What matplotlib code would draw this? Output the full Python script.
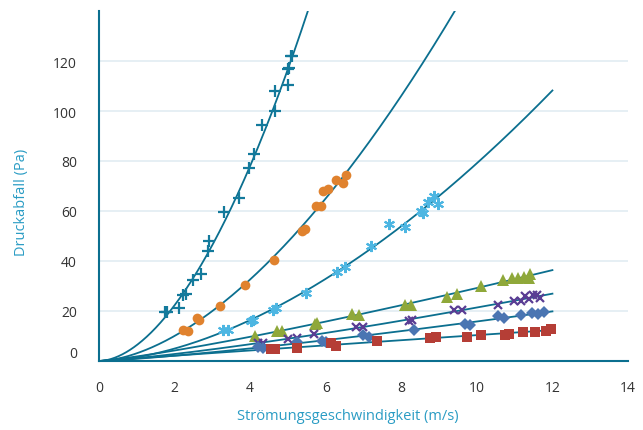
import numpy as np
import matplotlib
matplotlib.use("Agg")
import matplotlib.pyplot as plt

plt.rcParams['font.family'] = ['Open Sans', 'DejaVu Sans']

# ---- data ----
plus_x = [1.75, 1.81, 2.12, 2.21, 2.29, 2.48, 2.69, 2.89, 2.90, 3.31, 3.71, 3.98, 4.11, 4.32,
          4.67, 4.67, 5.01, 5.00, 5.03, 5.08, 5.10]
plus_y = [19.5, 19.7, 21.1, 26.5, 26.8, 32.5, 34.8, 44.0, 47.9, 59.5, 65.2, 77.2, 82.8, 94.4,
          100.2, 107.9, 110.5, 116.8, 117.1, 121.9, 122.1]

orange_x = [2.23, 2.36, 2.60, 2.65, 3.20, 3.87, 4.64, 5.38, 5.45, 5.73, 5.87, 5.93, 6.07, 6.26, 6.46, 6.55]
orange_y = [12.5, 12.1, 17.1, 16.3, 22.1, 30.4, 40.5, 52.1, 52.7, 61.9, 61.9, 68.1, 68.8, 72.4, 71.2, 74.4]

star_x = [3.29, 3.42, 4.01, 4.08, 4.61, 4.68, 5.49, 6.30, 6.51, 7.20, 7.68, 8.10, 8.53, 8.58, 8.71, 8.86, 8.98]
star_y = [12.5, 12.5, 15.9, 16.5, 20.6, 21.2, 27.4, 35.6, 37.5, 46.1, 54.8, 53.5, 60.1, 59.2, 63.7, 66.1, 62.8]

green_x = [4.13, 4.70, 4.83, 5.71, 5.78, 6.69, 6.89, 8.10, 8.27, 9.20, 9.48, 10.11, 10.69, 10.92,
           11.08, 11.24, 11.40, 11.39]
green_y = [9.9, 12.1, 12.1, 14.8, 15.1, 18.8, 18.3, 22.4, 22.4, 25.7, 26.9, 29.9, 32.4, 33.1,
           33.2, 33.7, 34.8, 33.3]

purple_x = [4.21, 4.34, 5.00, 5.23, 5.69, 6.80, 6.99, 8.20, 8.29, 9.39, 9.60, 10.56, 10.97, 11.16,
            11.27, 11.38, 11.49, 11.60, 11.67]
purple_y = [7.4, 7.4, 8.7, 9.1, 10.8, 13.5, 13.5, 16.1, 16.5, 20.4, 20.4, 22.4, 24.0, 23.9,
            25.9, 24.8, 26.5, 26.4, 25.1]

blue_x = [4.21, 4.35, 5.23, 5.91, 6.01, 6.99, 7.14, 8.33, 9.68, 9.81, 10.56, 10.73, 11.18, 11.46, 11.61, 11.79]
blue_y = [5.7, 5.3, 7.6, 8.1, 7.7, 10.6, 9.8, 12.4, 14.8, 14.5, 18.0, 17.3, 18.5, 19.1, 18.9, 19.7]

red_x = [4.55, 4.67, 5.25, 6.13, 6.27, 7.35, 8.76, 8.93, 9.75, 10.12, 10.74, 10.85, 11.21, 11.55, 11.83, 11.96]
red_y = [4.8, 4.8, 5.3, 7.1, 6.0, 8.1, 9.3, 9.8, 9.7, 10.5, 10.5, 10.9, 11.7, 11.7, 12.1, 12.9]

x_ticks = [0, 2, 4, 6, 8, 10, 12, 14]
y_ticks = [0, 20, 40, 60, 80, 100, 120]

series = [
    (plus_x, plus_y, dict(marker='+', color='#137a9c', ms=9, mew=1.6, ls='none')),
    (orange_x, orange_y, dict(marker='o', color='#e0822e', ms=7, mew=0, ls='none')),
    (star_x, star_y, dict(marker=(6, 2, 0), color='#4db6e2', ms=8, mew=1.5, ls='none')),
    (green_x, green_y, dict(marker='^', color='#8fa83a', ms=8, mew=0, ls='none')),
    (purple_x, purple_y, dict(marker='x', color='#5a3d94', ms=6, mew=1.6, ls='none')),
    (blue_x, blue_y, dict(marker='D', color='#4a75b2', ms=6.5, mew=0, ls='none')),
    (red_x, red_y, dict(marker='s', color='#b53e36', ms=6.5, mew=0, ls='none')),
]

line_color = '#0b6f8f'
label_color = '#2a9cc4'

fig = plt.figure(figsize=(6.43, 4.31), dpi=100)
ax = fig.add_axes([99 / 643, (431 - 362) / 431, 529 / 643, 350 / 431])

xs = np.linspace(0.001, 12, 600)
for x, y, style in series:
    x = np.asarray(x); y = np.asarray(y)
    n, lna = np.polyfit(np.log(x), np.log(y), 1)
    ax.plot(xs, np.exp(lna) * xs ** n, color=line_color, lw=1.3, zorder=2)
    ax.plot(x, y, zorder=3, **style)

ax.set_xlim(0, 14)
ax.set_ylim(0, 140)
ax.set_xticks(x_ticks)
ax.set_yticks(y_ticks)
ax.set_yticklabels([''] + [str(v) for v in y_ticks[1:]])
ax.annotate('0', xy=(0, 0), xycoords='axes fraction', xytext=(-22 * 0.72, 7 * 0.72),
            textcoords='offset points', ha='right', va='center', fontsize=10, color='#333333')

for yv in y_ticks[1:]:
    ax.axhline(yv, color='#e1ecf2', lw=1.2, zorder=0)

for s in ['top', 'right']:
    ax.spines[s].set_visible(False)
for s in ['left', 'bottom']:
    ax.spines[s].set_color(line_color)
    ax.spines[s].set_linewidth(1.5)
ax.spines['left'].set_zorder(4)
ax.spines['bottom'].set_zorder(4)

ax.tick_params(axis='both', length=0, labelsize=10, labelcolor='#333333')
ax.tick_params(axis='x', pad=14)
ax.tick_params(axis='y', pad=16)

ax.set_xlabel('Strömungsgeschwindigkeit (m/s)', color=label_color, fontsize=10.5)
ax.set_ylabel('Druckabfall (Pa)', color=label_color, fontsize=10.5)
ax.xaxis.set_label_coords(0.471, -0.135)
ax.yaxis.set_label_coords(-0.132, 0.455)

fig.savefig('out.png', dpi=100)
